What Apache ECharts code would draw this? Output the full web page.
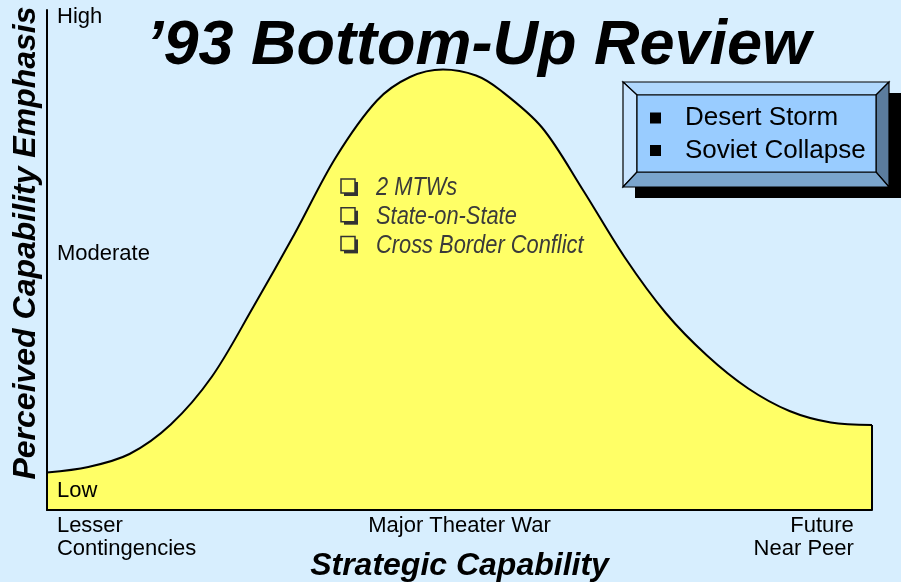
<!DOCTYPE html>
<html>
<head>
<meta charset="utf-8">
<script src="https://cdn.jsdelivr.net/npm/echarts@6.0.0/dist/echarts.min.js"></script>
<style>
  html, body { margin: 0; padding: 0; background: #d7eefe; }
  #main { width: 901px; height: 582px; }
</style>
</head>
<body>
<div id="main"></div>
<script>
// capability spectrum (0 = lesser contingencies, 100 = future near peer)
var capabilityX = [0, 5, 10, 15, 20, 25, 30, 35, 40, 44, 48, 52, 55, 60, 65, 70, 75, 80, 85, 90, 95, 100];
// perceived emphasis along the spectrum
var emphasisY = [7.5, 8.6, 11.2, 17.1, 26.7, 40.6, 55.2, 70.5, 81.9, 86.6, 88.1, 86.9, 83.9, 76.5, 63.9, 50.6, 39.4, 30.9, 24.3, 19.8, 17.5, 17];

var levelNames = ['Low', 'Moderate', 'High'];
var levelValues = [3.9, 51.3, 98.6];

var capabilityNames = ['Lesser\nContingencies', 'Major Theater War', 'Future\nNear Peer'];
var capabilityTicks = [1.2, 50, 97.8];

var missionNotes = ['2 MTWs', 'State-on-State', 'Cross Border Conflict'];
var drivers = ['Desert Storm', 'Soviet Collapse'];

var FONT = '"Liberation Sans", Arial, Helvetica, sans-serif';

function nearestName(v, values, names) {
    var best = 0;
    for (var i = 1; i < values.length; i++) {
        if (Math.abs(values[i] - v) < Math.abs(values[best] - v)) best = i;
    }
    return names[best];
}

var points = capabilityX.map(function(x, i) { return [x, emphasisY[i]]; });
var lastX = capabilityX[capabilityX.length - 1];
var lastY = emphasisY[emphasisY.length - 1];

// checklist inside the curve
var noteItems = [];
missionNotes.forEach(function(t, i) {
    var cy = 188 + i * 28.7;
    noteItems.push({ type: 'rect', z: 100, shape: { x: 344, y: cy - 6, width: 14, height: 14 }, style: { fill: '#333' } });
    noteItems.push({ type: 'rect', z: 101, shape: { x: 341, y: cy - 9, width: 14, height: 14 }, style: { fill: '#ffff66', stroke: '#333', lineWidth: 1.5 } });
    noteItems.push({
        type: 'text', z: 101, x: 376, y: cy, scaleX: 0.84,
        style: { text: t, x: 0, y: 0, fill: '#3a3a3a', verticalAlign: 'middle', font: 'italic 26px ' + FONT }
    });
});

// bevelled box with the drivers
var L = 623, T = 82, R = 889, B = 187, l = 637, t = 95, r = 876, b = 172;
var boxItems = [
    { type: 'rect', z: 100, shape: { x: 635, y: 93, width: 266, height: 105 }, style: { fill: '#000' } },
    { type: 'polygon', z: 101, shape: { points: [[L, T], [R, T], [r, t], [l, t]] }, style: { fill: '#b0d8fd', stroke: '#000', lineWidth: 1.2 } },
    { type: 'polygon', z: 101, shape: { points: [[L, T], [l, t], [l, b], [L, B]] }, style: { fill: '#c9e5ff', stroke: '#000', lineWidth: 1.2 } },
    { type: 'polygon', z: 101, shape: { points: [[R, T], [R, B], [r, b], [r, t]] }, style: { fill: '#5b7c9d', stroke: '#000', lineWidth: 1.2 } },
    { type: 'polygon', z: 101, shape: { points: [[L, B], [l, b], [r, b], [R, B]] }, style: { fill: '#7aa5cd', stroke: '#000', lineWidth: 1.2 } },
    { type: 'rect', z: 101, shape: { x: l, y: t, width: r - l, height: b - t }, style: { fill: '#99ccff', stroke: '#000', lineWidth: 1.2 } }
];
drivers.forEach(function(d, i) {
    var cy = 118 + i * 32.5;
    boxItems.push({ type: 'rect', z: 102, shape: { x: 650, y: cy - 5.5, width: 11, height: 11 }, style: { fill: '#000' } });
    boxItems.push({
        type: 'text', z: 102, x: 685, y: cy,
        style: { text: d, fill: '#000', verticalAlign: 'middle', font: '26px ' + FONT }
    });
});

var chart = echarts.init(document.getElementById('main'));
var option = {
    backgroundColor: '#d7eefe',
    animation: false,
    title: {
        text: '\u201993 Bottom-Up Review',
        left: 141,
        top: 10,
        textStyle: { fontSize: 63, fontWeight: 'bold', fontStyle: 'italic', fontFamily: FONT, color: '#000' }
    },
    grid: { left: 47, right: 29, top: 10, bottom: 72, outerBoundsMode: 'none', containLabel: false },
    xAxis: {
        type: 'value', min: 0, max: 100, z: 5,
        name: 'Strategic Capability',
        nameLocation: 'middle',
        nameGap: 40,
        nameMoveOverlap: false,
        nameTextStyle: { fontSize: 32, fontWeight: 'bold', fontStyle: 'italic', fontFamily: FONT, color: '#000' },
        axisLine: { show: true, lineStyle: { color: '#000', width: 2 } },
        axisTick: { show: false },
        splitLine: { show: false },
        axisLabel: {
            customValues: capabilityTicks,
            alignMinLabel: 'left',
            alignMaxLabel: 'right',
            margin: 4,
            fontSize: 22,
            lineHeight: 23,
            fontFamily: FONT,
            color: '#000',
            formatter: function(v) { return nearestName(v, capabilityTicks, capabilityNames); }
        }
    },
    yAxis: {
        type: 'value', min: 0, max: 100, z: 5,
        name: 'Perceived Capability Emphasis',
        nameLocation: 'middle',
        nameRotate: 90,
        nameGap: 5,
        nameMoveOverlap: false,
        nameTextStyle: { fontSize: 32, fontWeight: 'bold', fontStyle: 'italic', fontFamily: FONT, color: '#000', padding: [0, 0, 0, 34] },
        axisLine: { show: true, lineStyle: { color: '#000', width: 2 } },
        axisTick: { show: false },
        splitLine: { show: false },
        axisLabel: {
            inside: true,
            customValues: levelValues,
            margin: 10,
            fontSize: 22,
            fontFamily: FONT,
            color: '#000',
            formatter: function(v) { return nearestName(v, levelValues, levelNames); }
        }
    },
    series: [{
        type: 'line',
        data: points,
        smooth: 0.33,
        symbol: 'none',
        lineStyle: { color: '#000', width: 2 },
        areaStyle: { color: '#ffff66', opacity: 1 },
        markLine: {
            silent: true,
            symbol: 'none',
            label: { show: false },
            lineStyle: { color: '#000', width: 2, type: 'solid' },
            data: [[{ coord: [lastX, 0] }, { coord: [lastX, lastY] }]]
        }
    }],
    graphic: [
        { type: 'group', children: noteItems },
        { type: 'group', children: boxItems }
    ]
};
chart.setOption(option);

window.addEventListener('resize', function() {
    chart.resize();
});
</script>
</body>
</html>
